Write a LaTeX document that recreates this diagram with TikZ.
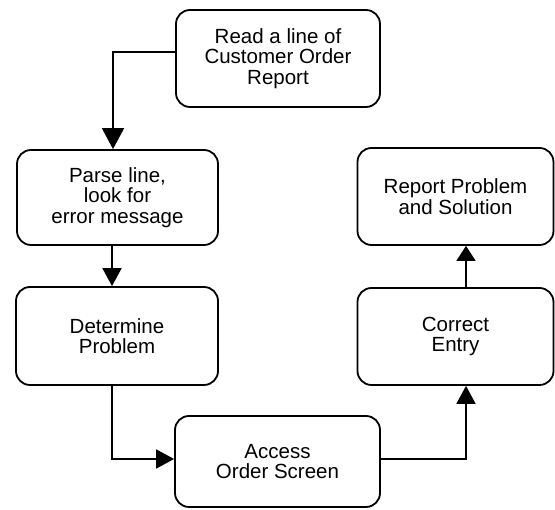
\documentclass[tikz,border=0pt]{standalone}
\usepackage{fontspec}
\setmainfont{Liberation Sans}
\usetikzlibrary{arrows.meta}
\begin{document}
\begin{tikzpicture}[x=1pt,y=1pt,
  stepbox/.style={draw, line width=1.8pt, rounded corners=14pt, align=center,
    inner sep=0pt, font=\fontsize{20.5}{20.5}\selectfont},
  flow/.style={line width=1.8pt, -{Triangle[length=18pt,width=19pt]}},
  bigflow/.style={line width=1.8pt, -{Triangle[length=21pt,width=22pt]}},
  smallflow/.style={line width=1.8pt, -{Triangle[length=15pt,width=19pt]}}]
\useasboundingbox (0,0) rectangle (555,510);
% process steps
\node[stepbox, minimum width=204pt, minimum height=97pt] (read) at (278,451.5)
  {Read a line of\\Customer Order\\Report};
\node[stepbox, minimum width=201pt, minimum height=95pt] (parse) at (117.5,312.5)
  {Parse line,\\look for\\error message};
\node[stepbox, minimum width=202pt, minimum height=98pt] (det) at (117,174)
  {Determine\\Problem};
\node[stepbox, minimum width=205pt, minimum height=91pt] (access) at (277.5,48.5)
  {Access\\Order Screen};
\node[stepbox, minimum width=196pt, minimum height=97pt] (correct) at (455.5,173.5)
  {Correct\\Entry};
\node[stepbox, minimum width=196pt, minimum height=97pt] (report) at (455.5,313.5)
  {Report Problem\\and Solution};
% connectors
\draw[bigflow] ([yshift=6.5pt]read.west) -| ([xshift=-4.5pt]parse.north);
\draw[flow] ([xshift=-5pt]det.north |- parse.south) -- ([xshift=-5pt]det.north);
\draw[flow] ([xshift=-5pt]det.south) |- ([yshift=2.5pt]access.west);
\draw[flow] ([yshift=2.5pt]access.east) -| ([xshift=10.5pt]correct.south);
\draw[smallflow] ([xshift=10.5pt]correct.north) -- ([xshift=10.5pt]report.south);
\end{tikzpicture}
\end{document}
